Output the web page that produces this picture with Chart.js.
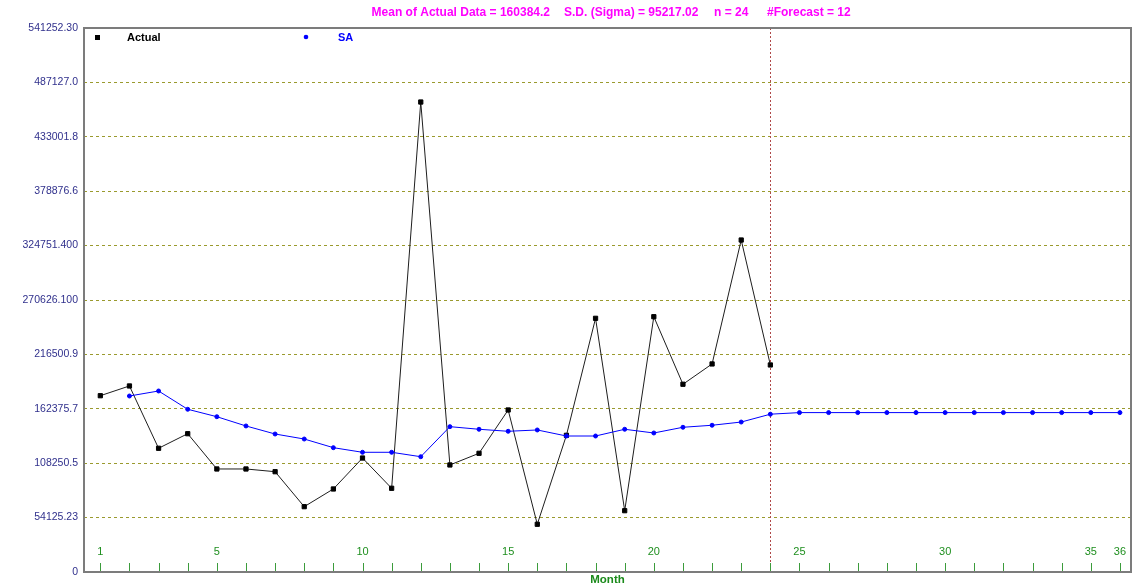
<!DOCTYPE html>
<html>
<head>
<meta charset="utf-8">
<title>Actual vs SA by Month</title>
<script src="https://cdn.jsdelivr.net/npm/chart.js@4.4.1/dist/chart.umd.min.js"></script>
<style>
  html, body { margin: 0; padding: 0; background: #ffffff; overflow: hidden; }
  canvas { display: block; }
</style>
</head>
<body>
<canvas id="chart" width="1136" height="587"></canvas>
<script>
// ---- data ----
const months = [1, 2, 3, 4, 5, 6, 7, 8, 9, 10, 11, 12, 13, 14, 15, 16, 17, 18,
                19, 20, 21, 22, 23, 24, 25, 26, 27, 28, 29, 30, 31, 32, 33, 34, 35, 36];

const actual = [175400, 185100, 123100, 137600, 102500, 102500, 99800, 65000,
                82600, 113400, 83300, 467600, 106500, 118100, 161200, 47500,
                136000, 252400, 61000, 254000, 186800, 207000, 330300, 206000];

const sa = [null, 175100, 180100, 161900, 154500, 145300, 137300, 132300,
            123700, 119100, 119100, 114700, 144600, 142000, 140000, 141300,
            135300, 135300, 142000, 138300, 144000, 146000, 149200, 157000,
            158600, 158600, 158600, 158600, 158600, 158600, 158600, 158600,
            158600, 158600, 158600, 158600];

const xTickLabels = [1, 5, 10, 15, 20, 25, 30, 35, 36];
const yTickValues = [0, 54125.23, 108250.46, 162375.69, 216500.92, 270626.15,
                     324751.38, 378876.61, 433001.84, 487127.07, 541252.30];
const yTickLabels = ['0', '54125.23', '108250.5', '162375.7', '216500.9', '270626.100',
                     '324751.400', '378876.6', '433001.8', '487127.0', '541252.30'];
const forecastStart = 24;
const titleParts = ['Mean of Actual Data = 160384.2', 'S.D. (Sigma) = 95217.02',
                    'n = 24', '#Forecast = 12'];
const seriesNames = ['Actual', 'SA'];

const FONT = '"Liberation Sans", Arial, sans-serif';

const toPoints = (vals) => vals.map((v, i) => ({ x: months[i], y: v }));

// ---- decorations drawn around the plot ----
const decorations = {
  id: 'decorations',
  beforeDatasetsDraw(chart) {
    const { ctx, chartArea: a, scales: { x } } = chart;
    // forecast boundary
    const fx = Math.round(x.getPixelForValue(forecastStart)) + 0.5;
    ctx.save();
    ctx.strokeStyle = '#b04848';
    ctx.lineWidth = 1;
    ctx.setLineDash([2, 2]);
    ctx.beginPath();
    ctx.moveTo(fx, a.top);
    ctx.lineTo(fx, a.bottom);
    ctx.stroke();
    ctx.restore();
  },
  afterDraw(chart) {
    const { ctx, chartArea: a, scales: { x } } = chart;
    ctx.save();

    // month tick marks and labels, inside the plot
    ctx.strokeStyle = '#3c9c3c';
    ctx.lineWidth = 1;
    months.forEach((m) => {
      const px = Math.round(x.getPixelForValue(m)) + 0.5;
      ctx.beginPath();
      ctx.moveTo(px, a.bottom - 9);
      ctx.lineTo(px, a.bottom);
      ctx.stroke();
    });
    ctx.fillStyle = '#1f8f1f';
    ctx.font = '11px ' + FONT;
    ctx.textAlign = 'center';
    ctx.textBaseline = 'middle';
    xTickLabels.forEach((m) => {
      ctx.fillText(String(m), x.getPixelForValue(m), a.bottom - 20);
    });

    // frame
    ctx.strokeStyle = '#7c7c7c';
    ctx.lineWidth = 2;
    ctx.strokeRect(a.left, a.top, a.right - a.left, a.bottom - a.top);

    // axis title
    ctx.fillStyle = '#1a8a1a';
    ctx.font = 'bold 11.5px ' + FONT;
    ctx.fillText('Month', (a.left + a.right) / 2, a.bottom + 8);

    // legend
    ctx.textAlign = 'left';
    ctx.font = 'bold 11px ' + FONT;
    const ly = a.top + 9;
    ctx.fillStyle = '#000000';
    ctx.fillRect(a.left + 11, ly - 2, 5, 5);
    ctx.fillText(seriesNames[0], a.left + 43, ly + 1);
    ctx.fillStyle = '#0000ff';
    ctx.beginPath();
    ctx.arc(a.left + 222, ly, 2.3, 0, Math.PI * 2);
    ctx.fill();
    ctx.fillText(seriesNames[1], a.left + 254, ly + 1);

    // summary header: first part ends where the second begins, minus a gap
    ctx.fillStyle = '#ff00ff';
    ctx.font = 'bold 12px ' + FONT;
    ctx.textAlign = 'right';
    ctx.fillText(titleParts[0], 550, 13);
    ctx.textAlign = 'left';
    const tx = [564, 714, 767];
    titleParts.slice(1).forEach((t, i) => ctx.fillText(t, tx[i], 13));

    ctx.restore();
  }
};

new Chart(document.getElementById('chart'), {
  type: 'line',
  data: {
    datasets: [
      {
        label: seriesNames[0],
        data: toPoints(actual),
        borderColor: '#1e1e1e',
        borderWidth: 1,
        pointStyle: 'rect',
        pointRadius: 3,
        pointBorderWidth: 1,
        pointBackgroundColor: '#000000',
        pointBorderColor: '#000000',
        tension: 0,
        order: 2
      },
      {
        label: seriesNames[1],
        data: toPoints(sa),
        borderColor: '#0000ff',
        borderWidth: 1,
        pointStyle: 'circle',
        pointRadius: 2,
        pointBorderWidth: 1,
        pointBackgroundColor: '#0000ff',
        pointBorderColor: '#0000ff',
        tension: 0,
        order: 1
      }
    ]
  },
  options: {
    responsive: false,
    animation: false,
    devicePixelRatio: 1,
    layout: { padding: { top: 28, right: 1, left: 0, bottom: 0 } },
    plugins: {
      legend: { display: false },
      title: { display: false },
      tooltip: { enabled: false }
    },
    scales: {
      x: {
        type: 'linear',
        min: 0.44,
        max: 36.38,
        grid: { display: false },
        border: { display: false },
        ticks: { display: false },
        afterFit(scale) { scale.height = 15; }
      },
      y: {
        type: 'linear',
        min: 0,
        max: 541252.30,
        afterBuildTicks(scale) {
          scale.ticks = yTickValues.map((v) => ({ value: v }));
        },
        afterFit(scale) { scale.width = 84; },
        border: { display: false, dash: [3, 3] },
        grid: {
          drawTicks: false,
          lineWidth: 1,
          color: (c) => (c.index === 0 || c.index === yTickValues.length - 1)
            ? 'rgba(0,0,0,0)' : '#9a9a2e'
        },
        ticks: {
          padding: 6,
          color: '#30308c',
          font: { family: FONT, size: 10.5 },
          callback: (value, index) => yTickLabels[index]
        }
      }
    }
  },
  plugins: [decorations]
});
</script>
</body>
</html>
